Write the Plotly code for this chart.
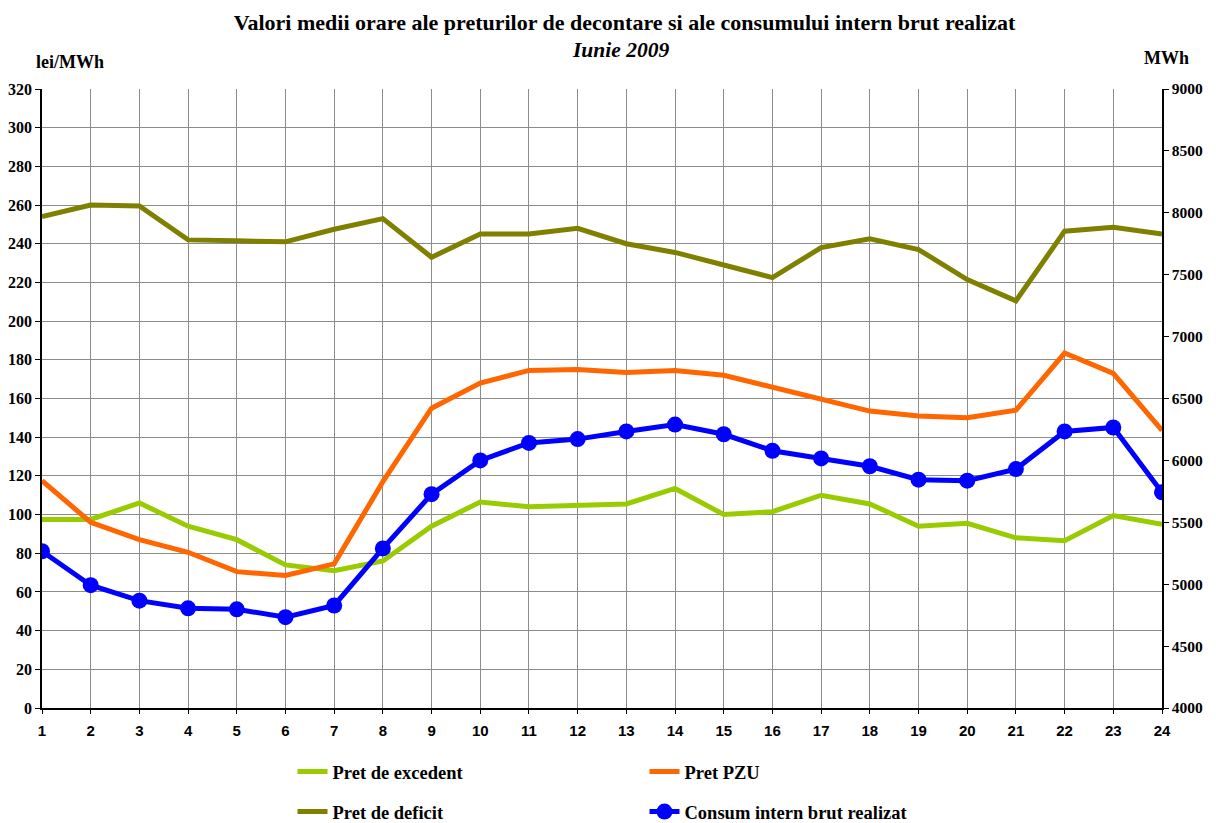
import plotly.graph_objects as go

hours = list(range(1, 25))
pret_excedent = [97.5, 97.5, 106, 94, 87, 74, 71, 76, 94, 106.5, 104, 104.5,
                 105.5, 113.5, 100, 101.5, 110, 105.5, 94, 95.5, 88, 86.5, 99.5, 95]
pret_pzu = [117.5, 96, 87, 80.5, 70.5, 68.5, 74.5, 117, 155, 168, 174.5, 175,
            173.5, 174.5, 172, 166, 159.5, 153.5, 151, 150, 154, 183.5, 173, 143.5]
pret_deficit = [254, 260, 259.5, 242, 241.5, 241, 247.5, 253, 233, 245, 245, 248,
                240, 235.5, 229, 222.5, 238, 242.5, 237, 221.5, 210.5, 246.5, 248.5, 245]
consum = [5266, 4992, 4867, 4805, 4797, 4734, 4828, 5289, 5727, 6000, 6141, 6172,
          6234, 6289, 6211, 6078, 6016, 5953, 5844, 5836, 5930, 6234, 6266, 5742]

SERIF = "Liberation Serif, Times New Roman, serif"
SANS = "Liberation Sans, Arial, sans-serif"

# the page body has an 8px margin, so the figure is drawn 8px smaller and
# all target positions (measured in the window) are shifted by -8
OFF = 8
W, H = 1216 - OFF, 823 - OFF
L, R, T, B = 42 - OFF, 1162 - OFF, 89 - OFF, 708 - OFF


def px_x(x):
    return (x - OFF - L) / (R - L)


def px_y(y):
    return (B - (y - OFF)) / (B - T)


fig = go.Figure()
fig.add_trace(go.Scatter(x=hours, y=pret_excedent, name="<b>Pret de excedent</b>",
                         mode="lines", line=dict(color="#99CC00", width=5),
                         legend="legend", legendgroup="a"))
fig.add_trace(go.Scatter(x=hours, y=pret_deficit, name="<b>Pret de deficit</b>",
                         mode="lines", line=dict(color="#808000", width=5),
                         legend="legend", legendgroup="b"))
fig.add_trace(go.Scatter(x=hours, y=pret_pzu, name="<b>Pret PZU</b>",
                         mode="lines", line=dict(color="#FF6600", width=5),
                         legend="legend2", legendgroup="c"))
fig.add_trace(go.Scatter(x=hours, y=consum, name="<b>Consum intern brut realizat</b>",
                         mode="lines+markers", yaxis="y2",
                         line=dict(color="#0000FF", width=5),
                         marker=dict(color="#0000FF", size=16),
                         legend="legend2", legendgroup="d"))

legend_common = dict(orientation="v", xref="paper", yref="paper", xanchor="left", yanchor="top",
                     font=dict(family=SERIF, size=18.5, color="black"),
                     bgcolor="rgba(0,0,0,0)", tracegroupgap=13, traceorder="grouped",
                     itemwidth=30)

fig.update_layout(
    width=W, height=H,
    margin=dict(l=L, r=W - R, t=T, b=H - B, autoexpand=False),
    paper_bgcolor="white", plot_bgcolor="white",
    font=dict(family=SERIF, color="black"),
    showlegend=True,
    title=dict(text="<b>Valori medii orare ale preturilor de decontare si ale consumului intern brut realizat</b>",
               x=(624.5 - OFF) / W, xanchor="center", xref="container",
               y=1 - (22 - OFF) / H, yanchor="middle", yref="container",
               font=dict(family=SERIF, size=22, color="black")),
    xaxis=dict(range=[1, 24], dtick=1, tick0=1, showgrid=True, gridcolor="#8c8c8c", gridwidth=1,
               showline=True, linecolor="black", linewidth=1.5, zeroline=False,
               ticks="outside", ticklen=4, tickcolor="black", ticklabelstandoff=4,
               tickfont=dict(family=SANS, size=15, color="black"), tickprefix="<b>", ticksuffix="</b>"),
    yaxis=dict(range=[0, 320], dtick=20, showgrid=True, gridcolor="#8c8c8c", gridwidth=1,
               showline=True, linecolor="black", linewidth=1.5, zeroline=False,
               ticks="outside", ticklen=5, tickcolor="black",
               tickfont=dict(family=SERIF, size=16, color="black"), tickprefix="<b>", ticksuffix="</b>"),
    yaxis2=dict(range=[4000, 9000], dtick=500, overlaying="y", side="right", showgrid=False,
                showline=True, linecolor="black", linewidth=1.5, zeroline=False,
                ticks="outside", ticklen=5, tickcolor="black",
                tickfont=dict(family=SERIF, size=15.5, color="black"), tickprefix="<b>", ticksuffix="</b>"),
    legend=dict(x=px_x(292.5), y=px_y(753), **legend_common),
    legend2=dict(x=px_x(644.5), y=px_y(753), **legend_common),
    annotations=[
        dict(text="<b><i>Iunie 2009</i></b>", x=px_x(620), y=px_y(50), xref="paper", yref="paper",
             xanchor="center", yanchor="middle",
             showarrow=False, font=dict(family=SERIF, size=21.5, color="black")),
        dict(text="<b>lei/MWh</b>", x=px_x(69.5), y=px_y(62), xref="paper", yref="paper",
             xanchor="center", yanchor="middle",
             showarrow=False, font=dict(family=SERIF, size=18, color="black")),
        dict(text="<b>MWh</b>", x=px_x(1166.5), y=px_y(58), xref="paper", yref="paper",
             xanchor="center", yanchor="middle",
             showarrow=False, font=dict(family=SERIF, size=18, color="black")),
    ],
)

fig.write_html("out.html")
